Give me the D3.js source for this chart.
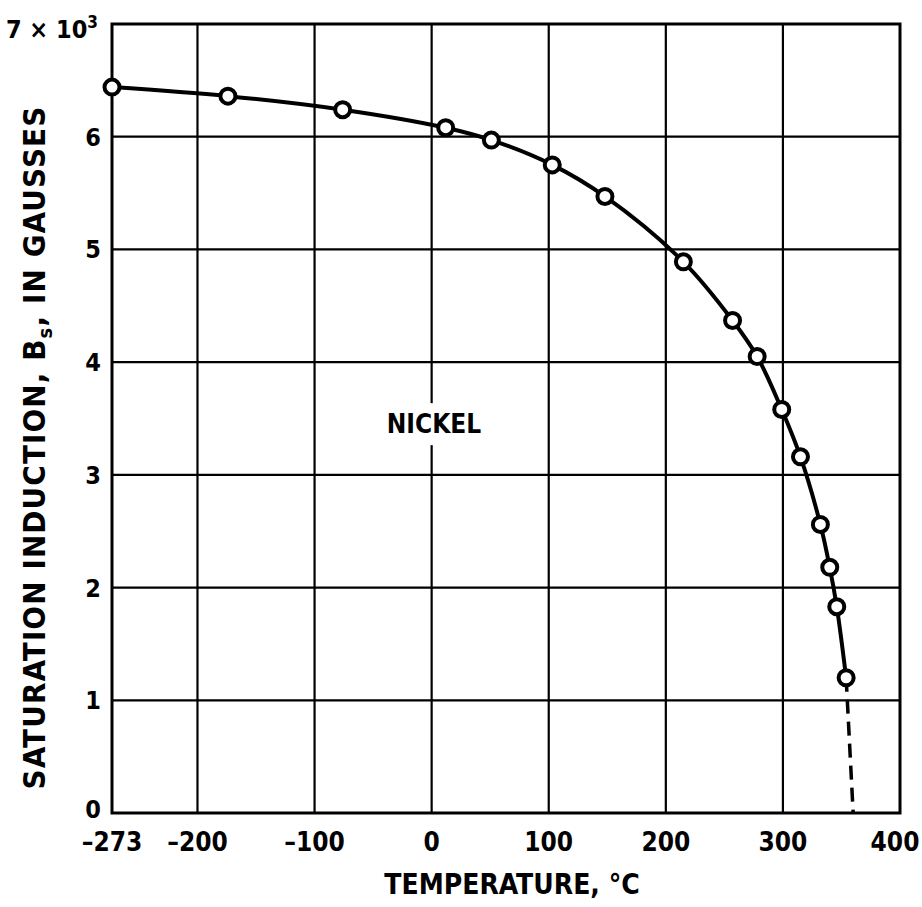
<!DOCTYPE html>
<html>
<head>
<meta charset="utf-8">
<script src="https://cdn.jsdelivr.net/npm/d3@7"></script>
<style>
  body { margin: 0; background: #fff; }
  text { font-family: "Liberation Sans Narrow", "DejaVu Sans Condensed", "Liberation Sans", sans-serif; font-weight: bold; fill: #000; }
</style>
</head>
<body>
<script>
// measured points, nickel
var temps = [-273, -174, -76, 12, 51, 103, 148, 215, 257, 278, 299, 315, 332, 340, 346, 354];
var induction = [6.44, 6.36, 6.24, 6.08, 5.97, 5.75, 5.47, 4.89, 4.37, 4.05, 3.58, 3.16, 2.56, 2.18, 1.83, 1.20];
// dashed extrapolation to curie point
var dashTemps = [354, 360];
var dashInduction = [1.20, 0];

var xTicks = [-273, -200, -100, 0, 100, 200, 300, 400];
var yTicks = [0, 1, 2, 3, 4, 5, 6, 7];

var W = 922, H = 907;
var m = {top: 24, right: 22, bottom: 94, left: 112};

var svg = d3.select("body").append("svg").attr("width", W).attr("height", H);

var x = d3.scaleLinear().domain([-273, 400]).range([m.left, W - m.right]);
var y = d3.scaleLinear().domain([0, 7]).range([H - m.bottom, m.top]);

// grid
svg.selectAll(".vg").data(xTicks.slice(1, -1)).enter().append("line")
    .attr("x1", d => x(d)).attr("x2", d => x(d))
    .attr("y1", y(0)).attr("y2", y(7))
    .attr("stroke", "#000").attr("stroke-width", 2.2);
svg.selectAll(".hg").data(yTicks.slice(1, -1)).enter().append("line")
    .attr("x1", x(-273)).attr("x2", x(400))
    .attr("y1", d => y(d)).attr("y2", d => y(d))
    .attr("stroke", "#000").attr("stroke-width", 2.2);

svg.append("rect")
    .attr("x", x(-273)).attr("y", y(7))
    .attr("width", x(400) - x(-273)).attr("height", y(0) - y(7))
    .attr("fill", "none").attr("stroke", "#000").attr("stroke-width", 3);

// tick labels
svg.selectAll(".xl").data(xTicks).enter().append("text")
    .attr("x", d => x(d) + (d == 400 ? -5 : 0)).attr("y", y(0) + 38)
    .attr("text-anchor", "middle").attr("font-size", 26)
    .text(d => d < 0 ? "\u2013" + (-d) : d);

svg.selectAll(".yl").data(yTicks.slice(0, -1)).enter().append("text")
    .attr("x", x(-273) - 11).attr("y", d => y(d) + (d == 0 ? 5 : 9))
    .attr("text-anchor", "end").attr("font-size", 25)
    .text(d => d);

var top7 = svg.append("text")
    .attr("x", x(-273) - 14).attr("y", y(7) + 14)
    .attr("text-anchor", "end").attr("font-size", 25);
top7.append("tspan").text("7 \u00d7 10");
top7.append("tspan").attr("dy", -10).attr("font-size", 17).text("3");

// axis titles
svg.append("text")
    .attr("x", (x(-273) + x(400)) / 2 + 6).attr("y", H - 13)
    .attr("text-anchor", "middle").attr("font-size", 28)
    .text("TEMPERATURE, \u00b0C");

var yt = svg.append("text")
    .attr("transform", "translate(45," + ((y(0) + y(7)) / 2 + 29) + ") rotate(-90)")
    .attr("text-anchor", "middle").attr("font-size", 31).attr("letter-spacing", 1.1);
yt.append("tspan").text("SATURATION INDUCTION, B");
yt.append("tspan").attr("font-size", 20).attr("dy", 7).text("s");
yt.append("tspan").attr("dy", -7).text(", IN GAUSSES");

// label
var lab = svg.append("g");
lab.append("rect")
    .attr("x", x(2) - 60).attr("y", y(3.37) - 30)
    .attr("width", 120).attr("height", 42).attr("fill", "#fff");
lab.append("text")
    .attr("x", x(2)).attr("y", y(3.37))
    .attr("text-anchor", "middle").attr("font-size", 26)
    .text("NICKEL");

// curve
var pts = temps.map((t, i) => [t, induction[i]]);
var line = d3.line().x(d => x(d[0])).y(d => y(d[1])).curve(d3.curveCatmullRom.alpha(0.5));

svg.append("path").datum(pts)
    .attr("d", line)
    .attr("fill", "none").attr("stroke", "#000").attr("stroke-width", 4);

var dpts = dashTemps.map((t, i) => [t, dashInduction[i]]);
svg.append("path").datum(dpts)
    .attr("d", d3.line().x(d => x(d[0])).y(d => y(d[1])))
    .attr("fill", "none").attr("stroke", "#000").attr("stroke-width", 3.5)
    .attr("stroke-dasharray", "14,8");

svg.selectAll("circle").data(pts).enter().append("circle")
    .attr("cx", d => x(d[0])).attr("cy", d => y(d[1]))
    .attr("r", 7.5)
    .attr("fill", "#fff").attr("stroke", "#000").attr("stroke-width", 4);
</script>
</body>
</html>
